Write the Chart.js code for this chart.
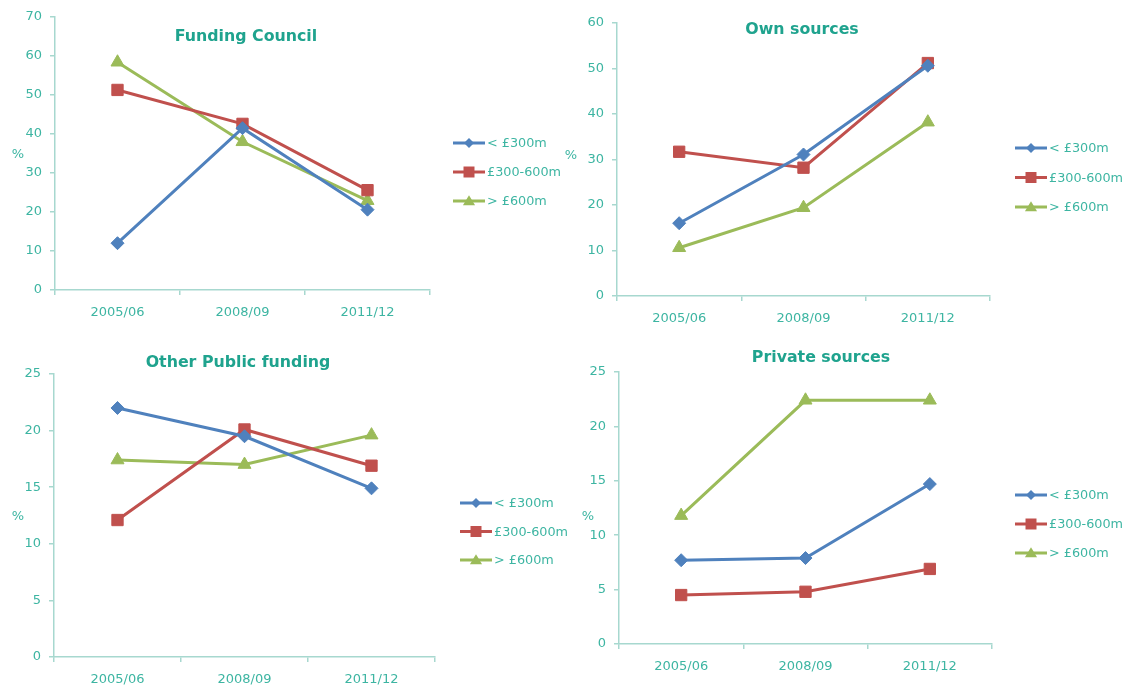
<!DOCTYPE html>
<html>
<head>
<meta charset="utf-8">
<script src="https://cdn.jsdelivr.net/npm/chart.js@4/dist/chart.umd.min.js"></script>
<style>
  html, body { margin: 0; padding: 0; background: #ffffff; }
  #wrap { position: relative; width: 1126px; height: 688px; overflow: hidden; }
  .panel { position: absolute; }
</style>
</head>
<body>
<div id="wrap">
  <div class="panel" style="left:0px;top:0px;width:600px;height:340px;"><canvas id="c1"></canvas></div>
  <div class="panel" style="left:563px;top:0px;width:563px;height:340px;"><canvas id="c2"></canvas></div>
  <div class="panel" style="left:0px;top:340px;width:600px;height:348px;"><canvas id="c3"></canvas></div>
  <div class="panel" style="left:563px;top:340px;width:563px;height:348px;"><canvas id="c4"></canvas></div>
</div>
<script>
// ---------- data ----------
const categories = ['2005/06', '2008/09', '2011/12'];
const seriesNames = ['< £300m', '£300-600m', '> £600m'];

const fundingSmall = [12.0, 41.5, 20.6];
const fundingMid   = [51.3, 42.6, 25.6];
const fundingLarge = [58.4, 38.0, 22.9];

const ownSmall = [16.0, 31.1, 50.6];
const ownMid   = [31.7, 28.2, 51.2];
const ownLarge = [10.6, 19.4, 38.2];

const otherSmall = [22.0, 19.5, 14.9];
const otherMid   = [12.1, 20.1, 16.9];
const otherLarge = [17.4, 17.0, 19.6];

const privateSmall = [7.7, 7.9, 14.7];
const privateMid   = [4.5, 4.8, 6.9];
const privateLarge = [11.8, 22.4, 22.4];

const fundingTicks = [0, 10, 20, 30, 40, 50, 60, 70];
const ownTicks = [0, 10, 20, 30, 40, 50, 60];
const otherTicks = [0, 5, 10, 15, 20, 25];
const privateTicks = [0, 5, 10, 15, 20, 25];

// ---------- styles ----------
const COLORS = ['#4f81bd', '#c0504d', '#9bbb59'];
const STYLES = ['rectRot', 'rect', 'triangle'];
const RADII = [6.5, 8, 7.5];
const TEAL = '#3db5a2';
const TITLE_TEAL = '#1fa38e';
const AXIS = '#a7d8cf';
const FONT = '"DejaVu Sans", Verdana, sans-serif';

function drawMarker(ctx, style, x, y, r, color) {
  ctx.save();
  ctx.fillStyle = color;
  ctx.beginPath();
  if (style === 'rectRot') {
    ctx.moveTo(x, y - r); ctx.lineTo(x + r, y); ctx.lineTo(x, y + r); ctx.lineTo(x - r, y);
  } else if (style === 'rect') {
    ctx.rect(x - r, y - r, 2 * r, 2 * r);
  } else {
    ctx.moveTo(x, y - r * 1.05); ctx.lineTo(x + r * 1.1, y + r * 0.75); ctx.lineTo(x - r * 1.1, y + r * 0.75);
  }
  ctx.closePath();
  ctx.fill();
  ctx.restore();
}

const panelDecor = {
  id: 'panelDecor',
  afterDraw(chart, args, opts) {
    const ctx = chart.ctx;
    ctx.save();
    // title
    ctx.font = 'bold 15.8px ' + FONT;
    ctx.fillStyle = TITLE_TEAL;
    ctx.textAlign = 'center';
    ctx.textBaseline = 'middle';
    ctx.fillText(opts.title, opts.titleX, opts.titleY);
    // unit label
    ctx.font = '13px ' + FONT;
    ctx.fillStyle = TEAL;
    ctx.fillText('%', opts.unitX, opts.unitY);
    // legend
    chart.data.datasets.forEach((ds, i) => {
      const y = opts.legendY + i * opts.legendGap;
      const x = opts.legendX;
      ctx.strokeStyle = ds.borderColor;
      ctx.lineWidth = 3;
      ctx.beginPath();
      ctx.moveTo(x, y); ctx.lineTo(x + 32, y);
      ctx.stroke();
      drawMarker(ctx, STYLES[i], x + 16, y, [5, 5.5, 5.5][i], ds.borderColor);
      ctx.font = '12.8px ' + FONT;
      ctx.fillStyle = TEAL;
      ctx.textAlign = 'left';
      ctx.textBaseline = 'middle';
      ctx.fillText(ds.label, x + 34, y + 1);
    });
    ctx.restore();
  }
};

function makeChart(id, values, ticks, yMax, layout, decor) {
  const datasets = values.map((v, i) => ({
    label: seriesNames[i],
    data: v,
    borderColor: COLORS[i],
    backgroundColor: COLORS[i],
    borderWidth: 3,
    pointStyle: STYLES[i],
    pointRadius: RADII[i],
    pointHoverRadius: RADII[i],
    pointBorderWidth: 1,
    pointBorderColor: COLORS[i],
    tension: 0
  }));
  return new Chart(document.getElementById(id), {
    type: 'line',
    data: { labels: categories, datasets },
    plugins: [panelDecor],
    options: {
      responsive: true,
      maintainAspectRatio: false,
      animation: false,
      events: [],
      layout: { padding: { left: 0, right: layout.right, top: layout.top, bottom: 0 } },
      plugins: {
        legend: { display: false },
        title: { display: false },
        tooltip: { enabled: false },
        panelDecor: decor
      },
      scales: {
        x: {
          type: 'category',
          offset: true,
          grid: { offset: true, drawOnChartArea: false, drawTicks: true, tickLength: 5, color: AXIS, lineWidth: 1.5 },
          border: { color: AXIS, width: 1.5 },
          ticks: { color: TEAL, font: { family: FONT, size: 13 }, padding: 10, maxRotation: 0 },
          afterFit(s) { s.height = layout.xh; }
        },
        y: {
          min: 0,
          max: yMax,
          afterBuildTicks(s) { s.ticks = ticks.map(v => ({ value: v })); },
          grid: { drawOnChartArea: false, drawTicks: true, tickLength: 5, color: AXIS, lineWidth: 1.5 },
          border: { color: AXIS, width: 1.5 },
          ticks: { color: TEAL, font: { family: FONT, size: 13 }, padding: 8 },
          afterFit(s) { s.width = layout.left; }
        }
      }
    }
  });
}

makeChart('c1', [fundingSmall, fundingMid, fundingLarge], fundingTicks, 70,
  { left: 55, right: 170, top: 17, xh: 50 },
  { title: 'Funding Council', titleX: 246, titleY: 37, unitX: 18, unitY: 155, legendX: 453, legendY: 143, legendGap: 29 });

makeChart('c2', [ownSmall, ownMid, ownLarge], ownTicks, 60,
  { left: 54, right: 136, top: 23, xh: 44 },
  { title: 'Own sources', titleX: 239, titleY: 30, unitX: 8, unitY: 156, legendX: 452, legendY: 148, legendGap: 29.5 });

makeChart('c3', [otherSmall, otherMid, otherLarge], otherTicks, 25,
  { left: 54, right: 165, top: 34, xh: 31 },
  { title: 'Other Public funding', titleX: 238, titleY: 23, unitX: 18, unitY: 177, legendX: 460, legendY: 163, legendGap: 28.5 });

makeChart('c4', [privateSmall, privateMid, privateLarge], privateTicks, 25,
  { left: 56, right: 134, top: 32, xh: 44 },
  { title: 'Private sources', titleX: 258, titleY: 18, unitX: 25, unitY: 177, legendX: 452, legendY: 155, legendGap: 29 });
</script>
</body>
</html>
